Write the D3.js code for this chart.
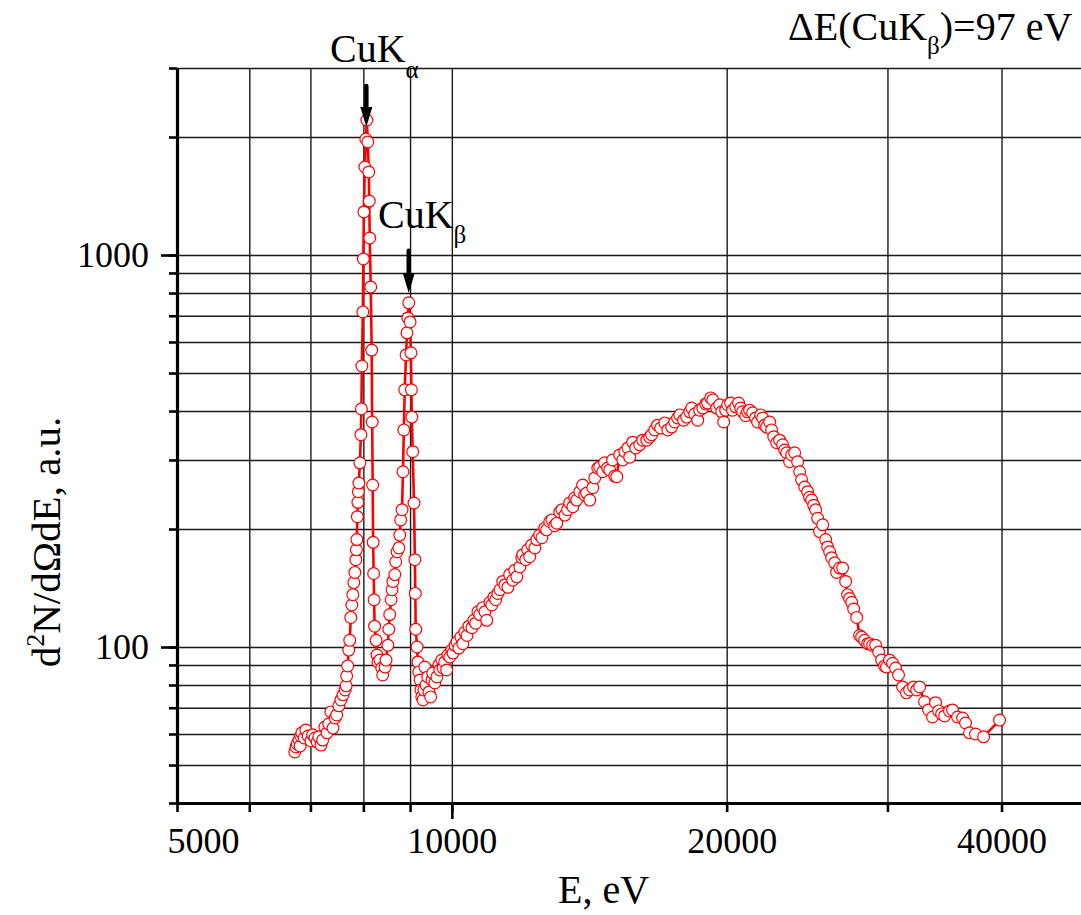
<!DOCTYPE html>
<html>
<head>
<meta charset="utf-8">
<script src="https://cdn.jsdelivr.net/npm/d3@7"></script>
<style>
body { margin: 0; background: #fff; }
svg { display: block; }
svg text { font-family: "Liberation Serif", "Times New Roman", serif; fill: #000; }
</style>
</head>
<body>
<svg id="chart" width="1081" height="915"></svg>
<script>
// photon energy, eV
const energy = [
	6730, 6750, 6770, 6800, 6820, 6830, 6850, 6890, 6920, 6960,
	7010, 7040, 7080, 7120, 7150, 7190, 7220, 7260, 7300, 7330,
	7370, 7410, 7450, 7480, 7520, 7560, 7600, 7640, 7660, 7670,
	7690, 7710, 7730, 7750, 7770, 7790, 7810, 7830, 7850, 7860,
	7870, 7880, 7890, 7900, 7910, 7930, 7950, 7960, 7970, 7990,
	8000, 8010, 8030, 8050, 8070, 8090, 8110, 8120, 8130, 8150,
	8170, 8180, 8190, 8200, 8210, 8220, 8230, 8260, 8280, 8300,
	8340, 8380, 8400, 8450, 8470, 8510, 8530, 8550, 8580, 8600,
	8620, 8660, 8680, 8710, 8750, 8770, 8790, 8820, 8840, 8860,
	8880, 8910, 8930, 8950, 8970, 9000, 9020, 9030, 9040, 9060,
	9090, 9110, 9120, 9130, 9160, 9180, 9200, 9230, 9250, 9270,
	9300, 9320, 9340, 9370, 9410, 9440, 9480, 9510, 9530, 9580,
	9630, 9680, 9700, 9750, 9780, 9820, 9870, 9900, 9950, 10000,
	10030, 10080, 10130, 10180, 10230, 10280, 10330, 10390, 10440, 10520,
	10570, 10620, 10680, 10730, 10810, 10870, 10920, 11010, 11060, 11120,
	11170, 11230, 11290, 11370, 11430, 11520, 11570, 11660, 11720, 11780,
	11870, 11930, 11960, 12050, 12110, 12170, 12230, 12330, 12390, 12480,
	12550, 12640, 12700, 12800, 12870, 12960, 13030, 13130, 13200, 13300,
	13390, 13460, 13570, 13630, 13700, 13810, 13910, 13980, 14050, 14160,
	14270, 14340, 14450, 14520, 14630, 14700, 14810, 14890, 15000, 15080,
	15160, 15270, 15390, 15470, 15590, 15660, 15780, 15900, 16060, 16180,
	16350, 16470, 16550, 16680, 16800, 16930, 17110, 17240, 17410, 17540,
	17670, 17770, 17940, 18080, 18220, 18310, 18450, 18590, 18680, 18830,
	18970, 19060, 19210, 19310, 19500, 19650, 19750, 19850, 19950, 20050,
	20200, 20300, 20460, 20610, 20720, 20820, 20980, 21080, 21190, 21350,
	21510, 21620, 21790, 21900, 22010, 22120, 22290, 22400, 22520, 22690,
	22860, 23030, 23150, 23270, 23440, 23560, 23740, 23920, 24040, 24160,
	24350, 24530, 24650, 24780, 24910, 25030, 25160, 25280, 25480, 25670,
	25800, 25930, 26060, 26260, 26390, 26590, 26790, 27000, 27130, 27270,
	27410, 27550, 27760, 27960, 28110, 28320, 28540, 28680, 28900, 29120,
	29340, 29560, 29780, 29930, 30160, 30390, 30620, 30850, 31170, 31480,
	31720, 32040, 32290, 32530, 32940, 33280, 33610, 33870, 34130, 34390,
	34650, 35080, 35350, 35800, 36260, 36530, 36900, 37460, 38230, 39800
];

// d2N/dOmega dE, a.u.
const intensity = [
	54.0, 55.6, 56.6, 57.9, 55.9, 59.3, 60.4, 58.6, 61.4, 59.3,
	57.6, 59.7, 58.6, 57.2, 59.0, 56.2, 57.9, 62.5, 60.4, 63.6,
	68.3, 62.1, 65.9, 67.1, 70.8, 73.3, 75.5, 77.7, 79.6, 84.4,
	89.5, 98.2, 104, 119, 128, 136, 146, 155, 167, 177,
	188, 215, 234, 249, 262, 295, 348, 405, 521, 716,
	977, 1288, 1677, 1977, 2210, 1943, 1629, 1373, 1105, 829,
	572, 375, 259, 185, 154, 132, 113, 104, 95.4, 91.6,
	92.6, 88.4, 84.9, 88.9, 92.6, 101, 111, 121, 132, 140,
	147, 153, 165, 175, 179, 193, 211, 224, 280, 358,
	453, 556, 633, 691, 755, 675, 563, 453, 386, 315,
	233, 167, 137, 111, 100, 91.6, 86.4, 82.4, 77.7, 74.6,
	73.3, 77.7, 88.9, 80.0, 83.9, 76.8, 74.6, 82.4, 85.8, 81.0,
	83.9, 90.0, 87.4, 92.6, 88.4, 91.6, 87.4, 95.4, 94.3, 98.2,
	96.5, 101, 103, 99.4, 106, 102, 109, 107, 113, 112,
	117, 115, 123, 121, 126, 123, 117, 130, 128, 134,
	132, 137, 140, 147, 144, 142, 153, 148, 157, 151,
	160, 169, 172, 167, 177, 170, 182, 179, 188, 193,
	190, 201, 199, 209, 211, 204, 207, 221, 224, 217,
	224, 233, 228, 240, 237, 249, 259, 244, 247, 237,
	255, 270, 286, 288, 280, 295, 286, 283, 300, 273,
	272, 309, 300, 315, 322, 305, 333, 322, 328, 337,
	337, 343, 348, 358, 368, 362, 373, 358, 364, 375,
	384, 391, 379, 386, 398, 407, 393, 379, 402, 407,
	417, 419, 432, 427, 407, 415, 398, 375, 402, 415,
	419, 402, 410, 419, 407, 398, 389, 398, 402, 396,
	384, 375, 391, 384, 368, 364, 375, 358, 344, 332,
	337, 328, 318, 313, 297, 309, 313, 297, 280, 267,
	256, 249, 241, 237, 230, 224, 213, 197, 205, 188,
	180, 175, 169, 164, 155, 159, 159, 147, 136, 133,
	130, 125, 119, 107, 106, 104, 102, 102, 101, 101,
	97.1, 92.6, 89.5, 88.9, 92.6, 90.9, 88.4, 84.9, 79.1, 76.4,
	77.7, 79.1, 77.7, 79.1, 72.5, 69.1, 66.3, 72.1, 68.7, 67.5,
	66.7, 68.7, 69.1, 66.3, 65.9, 64.0, 60.4, 60.0, 59.0, 65.1
];

const xTicks = [5000, 6000, 7000, 8000, 9000, 10000, 20000, 30000, 40000];
const xMajorTicks = [10000];
const xLabels = [5000, 10000, 20000, 40000];
const yTicks = [40, 50, 60, 70, 80, 90, 100, 200, 300, 400, 500, 600, 700, 800, 900, 1000, 2000, 3000];
const yMajorTicks = [100, 1000];
const yLabels = [100, 1000];

// line annotations: energy of the arrow and its top / tip intensity
const arrowE = [8060, 8970];
const arrowFrom = [2700, 1025];
const arrowTo = [2120, 800];

const data = energy.map((e, i) => ({ e, v: intensity[i] }));

const svg = d3.select("#chart");
const x = d3.scaleLog().domain([5000, 50000]).range([177, 1090]);
const y = d3.scaleLog().domain([40, 3000]).range([803, 68]);

const bottom = y(40);
const left = x(5000);
const plotH = y(40) - y(3000);
const plotW = x(50000) - x(5000);

function styleGrid(g) {
	g.select(".domain").remove();
	g.selectAll("line").attr("stroke", "#1a1a1a").attr("stroke-width", 1.4);
}

// grid
svg.append("g")
	.attr("transform", `translate(0,${bottom})`)
	.call(d3.axisBottom(x).tickValues(xTicks.slice(1)).tickSize(-plotH).tickFormat(""))
	.call(styleGrid);

svg.append("g")
	.attr("transform", `translate(${left},0)`)
	.call(d3.axisLeft(y).tickValues(yTicks.slice(1)).tickSize(-plotW).tickFormat(""))
	.call(styleGrid);

// data line + symbols
svg.append("path")
	.datum(data)
	.attr("fill", "none")
	.attr("stroke", "#ff0000")
	.attr("stroke-width", 2.6)
	.attr("stroke-linejoin", "round")
	.attr("d", d3.line().x(d => x(d.e)).y(d => y(d.v)));

svg.append("g")
	.selectAll("circle")
	.data(data)
	.join("circle")
	.attr("cx", d => x(d.e))
	.attr("cy", d => y(d.v))
	.attr("r", 5.9)
	.attr("fill", "#fff")
	.attr("stroke", "#ff0000")
	.attr("stroke-width", 1.2);

// axes
function styleAxis(g, width) {
	g.select(".domain").attr("stroke", "#000").attr("stroke-width", 3.2);
	g.selectAll(".tick line").attr("stroke", "#000").attr("stroke-width", width);
}

svg.append("g")
	.attr("transform", `translate(0,${bottom})`)
	.call(d3.axisBottom(x).tickValues(xTicks).tickSize(9).tickSizeOuter(0).tickFormat(""))
	.call(g => styleAxis(g, 2.6));

svg.append("g")
	.attr("transform", `translate(0,${bottom})`)
	.call(d3.axisBottom(x).tickValues(xMajorTicks).tickSize(16).tickFormat(""))
	.call(g => g.select(".domain").remove())
	.call(g => styleAxis(g, 2.6));

svg.append("g")
	.attr("transform", `translate(${left},0)`)
	.call(d3.axisLeft(y).tickValues(yTicks).tickSize(8).tickSizeOuter(0).tickFormat(""))
	.call(g => styleAxis(g, 2.6));

svg.append("g")
	.attr("transform", `translate(${left},0)`)
	.call(d3.axisLeft(y).tickValues(yMajorTicks).tickSize(16).tickFormat(""))
	.call(g => g.select(".domain").remove())
	.call(g => styleAxis(g, 2.6));

// tick labels
svg.append("g")
	.attr("transform", `translate(0,${bottom})`)
	.call(d3.axisBottom(x).tickValues(xLabels).tickSize(0).tickPadding(24).tickFormat(d3.format("d")))
	.call(g => g.select(".domain").remove())
	.call(g => g.selectAll("text")
		.attr("font-size", 36)
		.attr("dx", d => d === 5000 ? 26 : d === 20000 ? 5 : 0));

svg.append("g")
	.attr("transform", `translate(${left},0)`)
	.call(d3.axisLeft(y).tickValues(yLabels).tickSize(0).tickPadding(28).tickFormat(d3.format("d")))
	.call(g => g.select(".domain").remove())
	.call(g => g.selectAll("text").attr("font-size", 36));

// axis titles
svg.append("text")
	.attr("x", 558)
	.attr("y", 903)
	.attr("font-size", 40)
	.text("E, eV");

const yTitle = svg.append("text")
	.attr("transform", "translate(60,542) rotate(-90)")
	.attr("text-anchor", "middle")
	.attr("font-size", 41);
yTitle.append("tspan").text("d");
yTitle.append("tspan").attr("font-size", 26).attr("dy", -16).text("2");
yTitle.append("tspan").attr("dy", 16).text("N/dΩdE, a.u.");

// arrows
const arrows = svg.append("g");
arrowE.forEach((e, i) => {
	const ax = x(e);
	const y0 = y(arrowFrom[i]);
	const y1 = y(arrowTo[i]);
	arrows.append("line")
		.attr("x1", ax).attr("x2", ax)
		.attr("y1", y0).attr("y2", y1 - 12)
		.attr("stroke", "#000")
		.attr("stroke-width", 4.5)
		.attr("stroke-linecap", "round");
	arrows.append("path")
		.attr("d", `M${ax - 6},${y1 - 20}L${ax + 6},${y1 - 20}L${ax},${y1}Z`)
		.attr("fill", "#000");
});

// labels
const kA = svg.append("text").attr("x", 330).attr("y", 62).attr("font-size", 40);
kA.append("tspan").text("CuK");
kA.append("tspan").attr("font-size", 25).attr("dy", 16).text("α");

const kB = svg.append("text").attr("x", 378).attr("y", 228).attr("font-size", 40);
kB.append("tspan").text("CuK");
kB.append("tspan").attr("font-size", 25).attr("dy", 15).text("β");

const dE = svg.append("text").attr("x", 788).attr("y", 40).attr("font-size", 40);
dE.append("tspan").text("ΔE(CuK");
dE.append("tspan").attr("font-size", 25).attr("dy", 14).text("β");
dE.append("tspan").attr("dy", -14).text(")=97 eV");
</script>
</body>
</html>
